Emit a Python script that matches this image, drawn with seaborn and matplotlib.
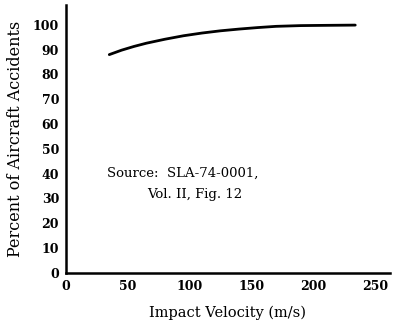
import matplotlib
matplotlib.use("Agg")
import matplotlib.pyplot as plt
import seaborn as sns
import pandas as pd

velocity = [35, 45, 55, 65, 80, 95, 110, 125, 140, 155, 170, 190, 210, 234]
percent = [88, 89.8, 91.3, 92.6, 94.2, 95.6, 96.7, 97.6, 98.3, 98.9, 99.4, 99.7, 99.8, 99.9]
x_ticks = [0, 50, 100, 150, 200, 250]
y_ticks = [0, 10, 20, 30, 40, 50, 60, 70, 80, 90, 100]

sns.set_style("white")
plt.rcParams['font.family'] = ['DejaVu Serif']
plt.rcParams['text.color'] = 'black'
plt.rcParams['axes.labelcolor'] = 'black'
plt.rcParams['xtick.color'] = 'black'
plt.rcParams['ytick.color'] = 'black'

fig = plt.figure(figsize=(3.93, 3.34), dpi=100)
ax = fig.add_axes([0.168, 0.183, 0.824, 0.802])

df = pd.DataFrame({"v": velocity, "p": percent})
sns.lineplot(data=df, x="v", y="p", ax=ax, color="black", linewidth=2.0)

ax.set_xlim(0, 262)
ax.set_ylim(0, 108)
ax.set_xticks(x_ticks)
ax.set_yticks(y_ticks)
ax.tick_params(axis="both", labelsize=9, length=3, width=1, direction="in", pad=5)
for lab in ax.get_xticklabels() + ax.get_yticklabels():
    lab.set_fontweight("bold")
for s in ["top", "right"]:
    ax.spines[s].set_visible(False)
for s in ["left", "bottom"]:
    ax.spines[s].set_color("black")
    ax.spines[s].set_linewidth(1.8)

ax.set_xlabel("Impact Velocity (m/s)", fontsize=10.5, labelpad=9)
ax.set_ylabel("Percent of Aircraft Accidents", fontsize=11.5, labelpad=6)

ax.text(33, 40, "Source:  SLA-74-0001,", fontsize=9.5, va="center", ha="left")
ax.text(66, 31.5, "Vol. II, Fig. 12", fontsize=9.5, va="center", ha="left")

fig.savefig("out.png", dpi=100, facecolor="white")
